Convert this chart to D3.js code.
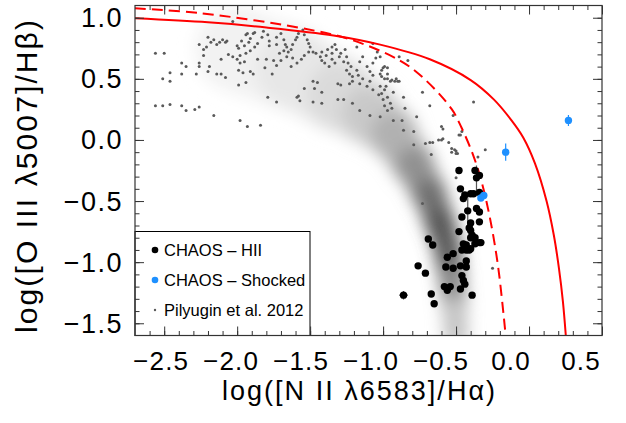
<!DOCTYPE html>
<html lang="en">
<head>
<meta charset="UTF-8">
<title>BPT diagram - CHAOS</title>
<script src="https://d3js.org/d3.v7.min.js"></script>
<style>
  body { margin: 0; background: #fff; }
  svg text { font-family: "Liberation Sans", Arial, Helvetica, sans-serif; fill: #000; }
</style>
</head>
<body>
<div id="chart"></div>
<script>
// ---------- data ----------
var xTicks = [-2.5, -2.0, -1.5, -1.0, -0.5, 0.0, 0.5];
var yTicks = [-1.5, -1.0, -0.5, 0.0, 0.5, 1.0];

// SDSS density ridge: [x, y, darkness, spread]
var sdssRidge = [
  [-2.00, 0.74, 0.03, 0.30], [-1.62, 0.58, 0.07, 0.28], [-1.30, 0.37, 0.12, 0.24],
  [-1.10, 0.22, 0.17, 0.20], [-0.94, 0.06, 0.25, 0.16], [-0.79, -0.20, 0.36, 0.13],
  [-0.68, -0.45, 0.50, 0.11], [-0.61, -0.68, 0.62, 0.10], [-0.56, -0.88, 0.68, 0.095],
  [-0.53, -1.12, 0.58, 0.09], [-0.51, -1.38, 0.34, 0.085], [-0.50, -1.60, 0.12, 0.08]
];

// Kewley et al. (solid) and Kauffmann et al. (dashed) lines
var kewleyLine = [
  [-2.70, 0.995], [-2.20, 0.962], [-1.80, 0.92], [-1.34, 0.855], [-1.02, 0.78],
  [-0.68, 0.66], [-0.40, 0.49], [-0.24, 0.33], [-0.12, 0.16], [-0.04, 0.02],
  [0.04, -0.19], [0.12, -0.50], [0.17, -0.78], [0.205, -1.05], [0.232, -1.32], [0.252, -1.60]
];
var kauffmannLine = [
  [-2.70, 1.077], [-2.255, 1.038], [-1.57, 0.917], [-1.227, 0.823], [-0.885, 0.650],
  [-0.725, 0.508], [-0.531, 0.254], [-0.463, 0.102], [-0.383, -0.124], [-0.325, -0.342],
  [-0.268, -0.638], [-0.212, -1.035], [-0.161, -1.59]
];

// Pilyugin et al. 2012: [x, y]
var pilyugin = [
  [-2.56,0.71],[-2.50,0.71],[-2.51,0.50],[-2.46,0.48],[-2.46,0.55],[-2.38,0.63],[-2.35,0.60],[-2.38,0.54],
  [-2.56,0.28],[-2.51,0.28],[-2.46,0.29],[-2.38,0.28],[-2.35,0.24],[-2.29,0.25],[-2.26,0.27],[-2.16,0.20],
  [-1.98,0.16],[-1.93,0.11],[-1.84,0.12],
  [-2.26,0.78],[-2.23,0.74],[-2.23,0.69],[-2.20,0.84],[-2.18,0.80],[-2.16,0.82],[-2.14,0.78],[-2.12,0.80],
  [-2.10,0.82],[-2.08,0.80],[-2.07,0.81],[-2.21,0.76],
  [-2.26,0.63],[-2.26,0.60],[-2.28,0.54],[-2.20,0.56],[-2.19,0.60],[-2.14,0.54],[-2.11,0.54],[-2.08,0.51],
  [-2.11,0.66],[-2.06,0.70],[-2.03,0.68],[-2.00,0.66],
  [-2.00,0.77],[-1.99,0.75],[-1.97,0.81],[-1.94,0.86],[-1.93,0.87],[-1.91,0.83],[-1.89,0.87],[-1.88,0.88],
  [-1.92,0.80],[-1.95,0.77],[-1.94,0.71],[-1.98,0.69],[-1.91,0.73],[-1.88,0.76],[-1.86,0.79],[-1.83,0.84],
  [-1.82,0.89],[-1.79,0.86],[-1.78,0.81],[-1.78,0.77],
  [-1.98,0.63],[-1.99,0.57],[-1.96,0.55],[-1.95,0.64],[-1.91,0.56],[-1.89,0.54],[-1.94,0.47],[-1.99,0.45],
  [-1.86,0.66],[-1.80,0.66],[-1.81,0.59],[-1.76,0.54],[-1.73,0.61],[-1.71,0.71],[-1.73,0.78],[-1.73,0.84],
  [-1.70,0.87],[-1.68,0.82],[-1.67,0.78],[-1.66,0.76],[-1.68,0.73],[-1.65,0.72],[-1.63,0.74],[-1.62,0.78],
  [-1.60,0.82],[-1.59,0.84],[-1.58,0.87],[-1.55,0.90],[-1.54,0.86],[-1.52,0.82],[-1.51,0.79],[-1.50,0.76],
  [-1.51,0.72],[-1.54,0.69],[-1.56,0.66],[-1.59,0.63],[-1.63,0.60],[-1.62,0.67],[-1.66,0.68],[-1.70,0.65],
  [-1.75,0.65],
  [-1.48,0.72],[-1.46,0.71],[-1.43,0.68],[-1.42,0.72],[-1.42,0.65],[-1.40,0.63],[-1.39,0.69],[-1.38,0.74],
  [-1.35,0.76],[-1.33,0.78],[-1.32,0.74],[-1.35,0.71],[-1.35,0.66],[-1.37,0.60],[-1.33,0.63],[-1.30,0.68],
  [-1.29,0.71],[-1.26,0.74],[-1.25,0.68],[-1.27,0.64],[-1.24,0.63],[-1.22,0.60],[-1.25,0.57],[-1.23,0.54],
  [-1.21,0.52],[-1.18,0.57],[-1.16,0.64],[-1.14,0.68],[-1.11,0.60],[-1.09,0.56],[-1.07,0.53],[-1.07,0.63],
  [-1.05,0.67],[-1.02,0.54],[-1.01,0.52],[-0.99,0.60],[-0.97,0.54],[-1.09,0.48],[-1.14,0.50],[-1.16,0.46],
  [-1.11,0.44],[-1.07,0.41],[-1.02,0.44],[-0.99,0.41],[-0.97,0.35],[-1.03,0.37],[-1.17,0.53],[-1.23,0.46],
  [-1.21,0.48],[-1.29,0.45],[-1.31,0.46],
  [-1.18,0.76],[-1.07,0.79],[-1.04,0.72],[-1.02,0.68],[-0.97,0.59],
  [-1.48,0.48],[-1.45,0.47],[-1.54,0.42],[-1.42,0.39],[-1.47,0.42],
  [-1.79,0.35],[-1.73,0.31],[-1.59,0.35],[-1.57,0.32],[-1.58,0.36],[-1.48,0.31],[-1.42,0.30],
  [-1.31,0.33],[-1.27,0.33],[-1.21,0.30],[-1.16,0.24],[-1.09,0.20],[-1.02,0.19],[-0.97,0.24],
  [-2.03,0.97],
  [-0.83,0.65],[-0.89,0.68],[-1.00,0.59],[-1.01,0.57],[-0.99,0.50],[-0.97,0.50],[-0.94,0.49],[-0.91,0.50],
  [-0.90,0.48],[-0.89,0.48],[-0.92,0.48],[-0.95,0.48],[-0.98,0.44],[-0.93,0.39],[-0.86,0.35],[-1.01,0.38],
  [-1.00,0.33],[-0.95,0.30],[-0.99,0.28],[-0.94,0.26],[-0.85,0.26],[-0.77,0.19],[-0.87,0.16],[-0.93,0.16],
  [-0.73,0.39],[-0.68,0.28],[-0.60,0.11],[-0.59,0.01],[-0.62,0.00],[-0.66,-0.02],[-0.68,-0.02],[-0.71,-0.03],
  [-0.79,-0.04],[-0.86,0.08],[-0.79,0.07],[-0.53,-0.07],[-0.50,-0.09],[-0.50,-0.11],[-0.67,-0.12],[-0.47,0.04],
  [-0.46,0.07],[-0.38,0.31],[-0.30,-0.08],[-0.73,-0.52],[-0.25,-1.05],
  [-0.59,0.09],[-0.60,0.00],[-0.55,-0.02],[-0.53,-0.10],[-0.51,-0.08],[-0.49,-0.11],[-0.48,0.04],
  [-0.52,0.20],[-0.35,-0.14],[-0.50,-0.31]
];

// CHAOS HII regions: [x, y, xerr, yerr]
var chaosHII = [
  [-0.48,-0.25,0,0],[-0.37,-0.25,0,0],[-0.34,-0.29,0,0],[-0.36,-0.31,0,0.10],[-0.47,-0.40,0,0],
  [-0.44,-0.45,0,0],[-0.40,-0.44,0,0],[-0.38,-0.44,0,0],[-0.34,-0.43,0,0],[-0.45,-0.48,0,0],
  [-0.42,-0.58,0,0.14],[-0.36,-0.56,0,0],[-0.34,-0.59,0,0],[-0.46,-0.63,0,0],[-0.34,-0.67,0,0],
  [-0.40,-0.68,0,0],[-0.41,-0.72,0,0],[-0.48,-0.75,0,0],[-0.40,-0.74,0,0],[-0.39,-0.78,0,0.09],
  [-0.40,-0.80,0,0],[-0.37,-0.80,0,0],[-0.33,-0.84,0,0],[-0.37,-0.85,0,0],[-0.34,-0.84,0,0],
  [-0.69,-0.81,0,0],[-0.66,-0.86,0,0],[-0.45,-0.85,0,0],[-0.43,-0.86,0,0],[-0.43,-0.90,0,0],
  [-0.40,-0.89,0,0],[-0.44,-0.89,0,0],[-0.41,-0.90,0,0],[-0.52,-0.93,0,0],[-0.56,-0.96,0,0],
  [-0.46,-0.90,0,0],[-0.43,-0.99,0,0],[-0.76,-1.03,0,0],[-0.71,-1.09,0,0],[-0.57,-1.04,0,0],
  [-0.47,-1.03,0,0],[-0.43,-1.04,0,0],[-0.52,-1.05,0,0],[-0.46,-1.11,0,0],[-0.45,-1.15,0,0],
  [-0.44,-1.18,0,0],[-0.58,-1.20,0,0],[-0.54,-1.20,0,0],[-0.56,-1.23,0,0],[-0.47,-1.22,0,0],
  [-0.67,-1.26,0,0],[-0.39,-1.27,0,0],[-0.65,-1.34,0,0],[-0.86,-1.27,0.03,0.035]
];

// CHAOS shocked regions: [x, y, xerr, yerr]
var chaosShocked = [
  [0.27, 0.16, 0, 0.045], [-0.16, -0.10, 0, 0.07],
  [-0.33, -0.475, 0, 0], [-0.31, -0.455, 0, 0]
];

var legendItems = ["CHAOS \u2013 HII", "CHAOS \u2013 Shocked", "Pilyugin et al. 2012"];

// ---------- layout ----------
var W = 626, H = 423;
var mLeft = 135, mRight = 602, mTop = 5.5, mBottom = 335.5;

var x = d3.scaleLinear().domain([-2.7, 0.5]).range([mLeft, mRight]);
var y = d3.scaleLinear().domain([-1.6, 1.1]).range([mBottom, mTop]);
// tick labels in the original sit on a slightly tighter spacing than the ticks
var xLabel = d3.scaleLinear().domain([-2.5, 0.5]).range([x(-2.5) - 3, x(0.5) - 21]);

var svg = d3.select("#chart").append("svg")
    .attr("width", W)
    .attr("height", H);

var defs = svg.append("defs");
defs.append("clipPath").attr("id", "clip")
    .append("rect").attr("x", mLeft).attr("y", mTop)
    .attr("width", mRight - mLeft).attr("height", mBottom - mTop);
defs.append("filter").attr("id", "blur")
    .attr("x", "-30%").attr("y", "-30%").attr("width", "160%").attr("height", "160%")
    .append("feGaussianBlur").attr("stdDeviation", 8);

var plot = svg.append("g").attr("clip-path", "url(#clip)");

// SDSS density background
var gray = d3.interpolateRgb("#ffffff", "#000000");
var dens = plot.append("g").attr("filter", "url(#blur)");
d3.pairs(sdssRidge).forEach(function(p) {
    var a = p[0], b = p[1];
    dens.append("line")
        .attr("x1", x(a[0])).attr("y1", y(a[1]))
        .attr("x2", x(b[0])).attr("y2", y(b[1]))
        .attr("stroke", gray((a[2] + b[2]) / 2))
        .attr("stroke-width", 2 * (x((a[3] + b[3]) / 2) - x(0)))
        .attr("stroke-linecap", "round");
});

// Pilyugin points
plot.append("g").selectAll("circle")
    .data(pilyugin)
    .enter().append("circle")
    .attr("cx", d => x(d[0]))
    .attr("cy", d => y(d[1]))
    .attr("r", 1.5)
    .attr("fill", "#5a5a5a");

// demarcation lines
var line = d3.line()
    .x(d => x(d[0]))
    .y(d => y(d[1]))
    .curve(d3.curveCatmullRom.alpha(0.5));

plot.append("path").datum(kewleyLine)
    .attr("d", line).attr("fill", "none")
    .attr("stroke", "#ff0000").attr("stroke-width", 2);
plot.append("path").datum(kauffmannLine)
    .attr("d", line).attr("fill", "none")
    .attr("stroke", "#ff0000").attr("stroke-width", 2)
    .attr("stroke-dasharray", "11,6");

// error bars + points
function drawSeries(data, color, barColor) {
    var g = plot.append("g");
    data.forEach(function(d) {
        if (d[3] > 0) {
            g.append("line").attr("x1", x(d[0])).attr("x2", x(d[0]))
                .attr("y1", y(d[1] - d[3])).attr("y2", y(d[1] + d[3]))
                .attr("stroke", barColor).attr("stroke-width", 1.2);
        }
        if (d[2] > 0) {
            g.append("line").attr("y1", y(d[1])).attr("y2", y(d[1]))
                .attr("x1", x(d[0] - d[2])).attr("x2", x(d[0] + d[2]))
                .attr("stroke", barColor).attr("stroke-width", 1.2);
        }
    });
    g.selectAll("circle").data(data).enter().append("circle")
        .attr("cx", d => x(d[0]))
        .attr("cy", d => y(d[1]))
        .attr("r", 3.7)
        .attr("fill", color);
}
drawSeries(chaosHII, "#000", "#555");
drawSeries(chaosShocked, "#1e90ff", "#1e90ff");

// legend
var lg = svg.append("g");
lg.append("rect")
    .attr("x", mLeft).attr("y", 231.5)
    .attr("width", 175).attr("height", mBottom - 231.5)
    .attr("fill", "#fff").attr("stroke", "#000").attr("stroke-width", 1);
var legendMarks = [
    {color: "#000", r: 3.3},
    {color: "#1e90ff", r: 3.3},
    {color: "#5a5a5a", r: 1.2}
];
legendItems.forEach(function(t, i) {
    var cy = 250 + i * 30;
    lg.append("circle").attr("cx", 155).attr("cy", cy)
        .attr("r", legendMarks[i].r).attr("fill", legendMarks[i].color);
    lg.append("text").attr("x", 164).attr("y", cy + 5.5)
        .attr("font-size", 16.5).text(t);
});

// axes: inward ticks on all four sides
var xMinor = d3.range(-26, 5).map(i => i / 10);
var yMinor = d3.range(-15, 11).map(i => i / 10);

function tickAxis(axis, transform) {
    var g = svg.append("g").attr("transform", transform).call(axis);
    g.select(".domain").remove();
    g.selectAll("line").attr("stroke", "#333");
    g.selectAll("text").remove();
}
[9, 4.5].forEach(function(len, k) {
    var xv = k === 0 ? xTicks : xMinor;
    var yv = k === 0 ? yTicks : yMinor;
    tickAxis(d3.axisBottom(x).tickValues(xv).tickSize(-len), "translate(0," + mBottom + ")");
    tickAxis(d3.axisTop(x).tickValues(xv).tickSize(-len), "translate(0," + mTop + ")");
    tickAxis(d3.axisLeft(y).tickValues(yv).tickSize(-len), "translate(" + mLeft + ",0)");
    tickAxis(d3.axisRight(y).tickValues(yv).tickSize(-len), "translate(" + mRight + ",0)");
});

svg.append("rect")
    .attr("x", mLeft).attr("y", mTop)
    .attr("width", mRight - mLeft).attr("height", mBottom - mTop)
    .attr("fill", "none").attr("stroke", "#333").attr("stroke-width", 1.2);

var fmt = d3.format(".1f");
svg.append("g").selectAll("text").data(xTicks).enter().append("text")
    .attr("x", d => xLabel(d))
    .attr("y", 370)
    .attr("text-anchor", "middle")
    .attr("font-size", 26)
    .attr("letter-spacing", 1.2)
    .text(d => fmt(d));

svg.append("g").selectAll("text").data(yTicks).enter().append("text")
    .attr("x", 123)
    .attr("y", d => y(d) + 9.5)
    .attr("text-anchor", "end")
    .attr("font-size", 27)
    .attr("letter-spacing", 1.5)
    .text(d => fmt(d));

// axis titles
svg.append("text")
    .attr("x", 358.5).attr("y", 400)
    .attr("text-anchor", "middle")
    .attr("font-size", 27)
    .attr("textLength", 273).attr("lengthAdjust", "spacing")
    .text("log([N II \u03bb6583]/H\u03b1)");

svg.append("text")
    .attr("transform", "translate(36.5,176.5) rotate(-90)")
    .attr("text-anchor", "middle")
    .attr("font-size", 30)
    .attr("textLength", 313).attr("lengthAdjust", "spacing")
    .text("log([O III \u03bb5007]/H\u03b2)");
</script>
</body>
</html>
